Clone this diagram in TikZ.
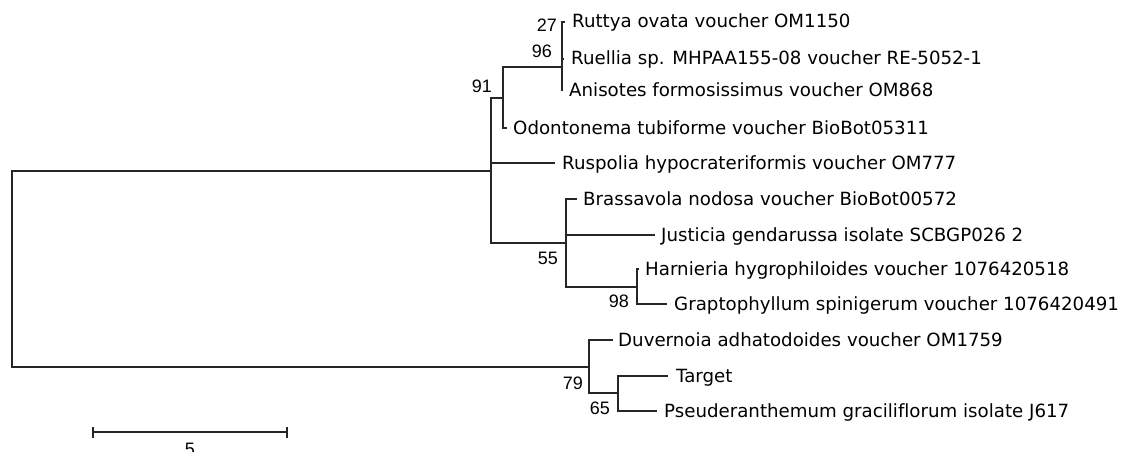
\documentclass[tikz,border=0pt]{standalone}
\usepackage{fontspec}
\setmainfont{DejaVu Sans}[Ligatures=NoCommon]
\newfontfamily\bootfont{Liberation Sans}
\usetikzlibrary{positioning}

\tikzset{
    branch/.style={line width=1.2pt, draw=black!85},
    taxon/.style={inner sep=0pt, text height=15pt, text depth=3pt,
        font=\fontsize{18.2}{20}\selectfont},
    boot/.style={inner sep=0pt, font=\bootfont\fontsize{18}{20}\selectfont},
}

\begin{document}
\begin{tikzpicture}[x=1pt,y=-1pt]

    \useasboundingbox (0,0) rectangle (1122,452);

    % Internal nodes of the tree
    \coordinate (root) at (12,269);
    \coordinate (nA) at (491,171);
    \coordinate (n91) at (503,98);
    \coordinate (n96) at (562,67);
    \coordinate (n27) at (562,40);
    \coordinate (n55) at (566,243);
    \coordinate (n98) at (637,287);
    \coordinate (n79) at (589,367);
    \coordinate (n65) at (618,393);

    % Tips of the branches
    \coordinate (tRuttya) at (565,22);
    \coordinate (tRuellia) at (564,59);
    \coordinate (tAnisotes) at (563,90);
    \coordinate (tOdonto) at (507,128);
    \coordinate (tRuspolia) at (555,163);
    \coordinate (tBrassa) at (577,199);
    \coordinate (tJusticia) at (655,235);
    \coordinate (tHarnieria) at (639,269);
    \coordinate (tGrapto) at (667,304);
    \coordinate (tDuvernoia) at (613,340);
    \coordinate (tTarget) at (668,376);
    \coordinate (tPseud) at (657,411);

    % Branches
    \draw[branch] (root) |- (nA);
    \draw[branch] (root) |- (n79);
    \draw[branch] (nA) |- (n91);
    \draw[branch] (nA) |- (tRuspolia);
    \draw[branch] (nA) |- (n55);
    \draw[branch] (n91) |- (n96);
    \draw[branch] (n91) |- (tOdonto);
    \draw[branch] (n96) |- (n27);
    \draw[branch] (n96) |- (tAnisotes);
    \draw[branch] (n27) |- (tRuttya);
    \draw[branch] (n27) |- (tRuellia);
    \draw[branch] (n55) |- (tBrassa);
    \draw[branch] (n55) |- (tJusticia);
    \draw[branch] (n55) |- (n98);
    \draw[branch] (n98) |- (tHarnieria);
    \draw[branch] (n98) |- (tGrapto);
    \draw[branch] (n79) |- (tDuvernoia);
    \draw[branch] (n79) |- (n65);
    \draw[branch] (n65) |- (tTarget);
    \draw[branch] (n65) |- (tPseud);

    % Taxon names
    \node[taxon, right=7pt of tRuttya] (lRuttya) {Ruttya ovata voucher OM1150};
    \node[taxon, right=7pt of tRuellia] (lRuellia) {Ruellia sp. MHPAA155-08 voucher RE-5052-1};
    \node[taxon, right=6pt of tAnisotes] (lAnisotes) {Anisotes formosissimus voucher OM868};
    \node[taxon, right=6pt of tOdonto] (lOdonto) {Odontonema tubiforme voucher BioBot05311};
    \node[taxon, right=7pt of tRuspolia] (lRuspolia) {Ruspolia hypocrateriformis voucher OM777};
    \node[taxon, right=6pt of tBrassa] (lBrassa) {Brassavola nodosa voucher BioBot00572};
    \node[taxon, right=6pt of tJusticia] (lJusticia) {Justicia gendarussa isolate SCBGP026 2};
    \node[taxon, right=6pt of tHarnieria] (lHarnieria) {Harnieria hygrophiloides voucher 1076420518};
    \node[taxon, right=7pt of tGrapto] (lGrapto) {Graptophyllum spinigerum voucher 1076420491};
    \node[taxon, right=5pt of tDuvernoia] (lDuvernoia) {Duvernoia adhatodoides voucher OM1759};
    \node[taxon, right=8pt of tTarget] (lTarget) {Target};
    \node[taxon, right=7pt of tPseud] (lPseud) {Pseuderanthemum graciliflorum isolate J617};

    % Bootstrap values
    \node[boot, above left=8pt and 5pt of n27] (b27) {27};
    \node[boot, above left=9pt and 10pt of n96] (b96) {96};
    \node[boot, above left=5pt and 11pt of n91] (b91) {91};
    \node[boot, below left=9pt and 8pt of n55] (b55) {55};
    \node[boot, below left=8pt and 8pt of n98] (b98) {98};
    \node[boot, below left=10pt and 6pt of n79] (b79) {79};
    \node[boot, below left=9pt and 8pt of n65] (b65) {65};

    % Scale bar
    \coordinate (sbL) at (93,432);
    \coordinate (sbR) at (287,432);
    \coordinate (sbMid) at (190,432);
    \draw[branch] (sbL) -- (sbR);
    \draw[branch] ([yshift=5pt]sbL) -- ([yshift=-6pt]sbL);
    \draw[branch] ([yshift=5pt]sbR) -- ([yshift=-6pt]sbR);
    \node[boot, below=11pt of sbMid] (sbText) {5};

\end{tikzpicture}
\end{document}
